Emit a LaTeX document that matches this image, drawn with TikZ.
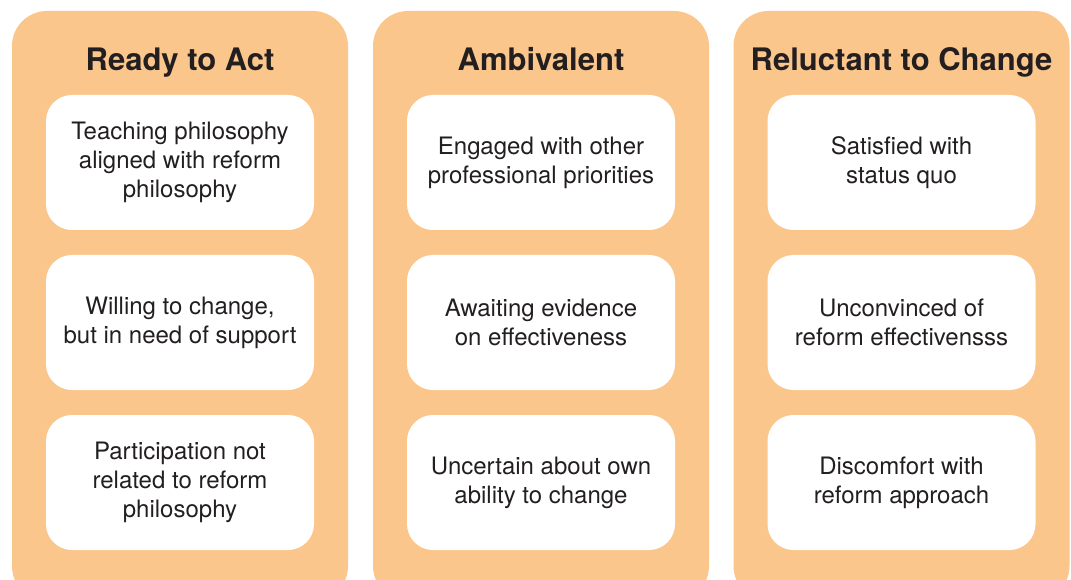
\documentclass[tikz,border=0pt]{standalone}
\usepackage{fontspec}
\setmainfont{TeX Gyre Heros}
\usetikzlibrary{positioning}
\definecolor{panelorange}{HTML}{FBC68B}
\definecolor{textgray}{HTML}{231F20}
\tikzstyle{panel} = [rectangle, rounded corners=35pt,
minimum width=336pt,
minimum height=590pt,
fill=panelorange,
draw=none]
\tikzstyle{heading} = [font=\fontsize{31}{36}\selectfont\bfseries,
anchor=base,
text=textgray]
\tikzstyle{item} = [rectangle, rounded corners=26pt,
minimum width=268pt,
minimum height=135pt,
align=center,
font=\fontsize{24}{29}\selectfont,
text=textgray,
fill=white]

\begin{document}
\begin{tikzpicture}[x=1pt, y=-1pt, node distance=160pt]
		\useasboundingbox (0,0) rectangle (1071,580);
		
		% the three columns
		\node (ready) [panel] at (180,306) {};
		\node (ambi) [panel] at (541,306) {};
		\node (reluct) [panel] at (901.5,306) {};
		
		\node (h1) [heading] at (180,71) {Ready to Act};
		\node (h2) [heading] at (541,71) {Ambivalent};
		\node (h3) [heading] at (901.5,71) {Reluctant to Change};
		
		% Ready to Act
		\node (r1) [item] at (180,162.5) {Teaching philosophy\\aligned with reform\\philosophy};
		\node (r2) [item, below of=r1] {Willing to change,\\but in need of support};
		\node (r3) [item, below of=r2] {Participation not\\related to reform\\philosophy};
		
		% Ambivalent
		\node (a1) [item] at (541,162.5) {Engaged with other\\professional priorities};
		\node (a2) [item, below of=a1] {Awaiting evidence\\on effectiveness};
		\node (a3) [item, below of=a2] {Uncertain about own\\ability to change};
		
		% Reluctant to Change
		\node (c1) [item] at (901.5,162.5) {Satisfied with\\status quo};
		\node (c2) [item, below of=c1] {Unconvinced of\\reform effectivensss};
		\node (c3) [item, below of=c2] {Discomfort with\\reform approach};
		
	\end{tikzpicture}
\end{document}
